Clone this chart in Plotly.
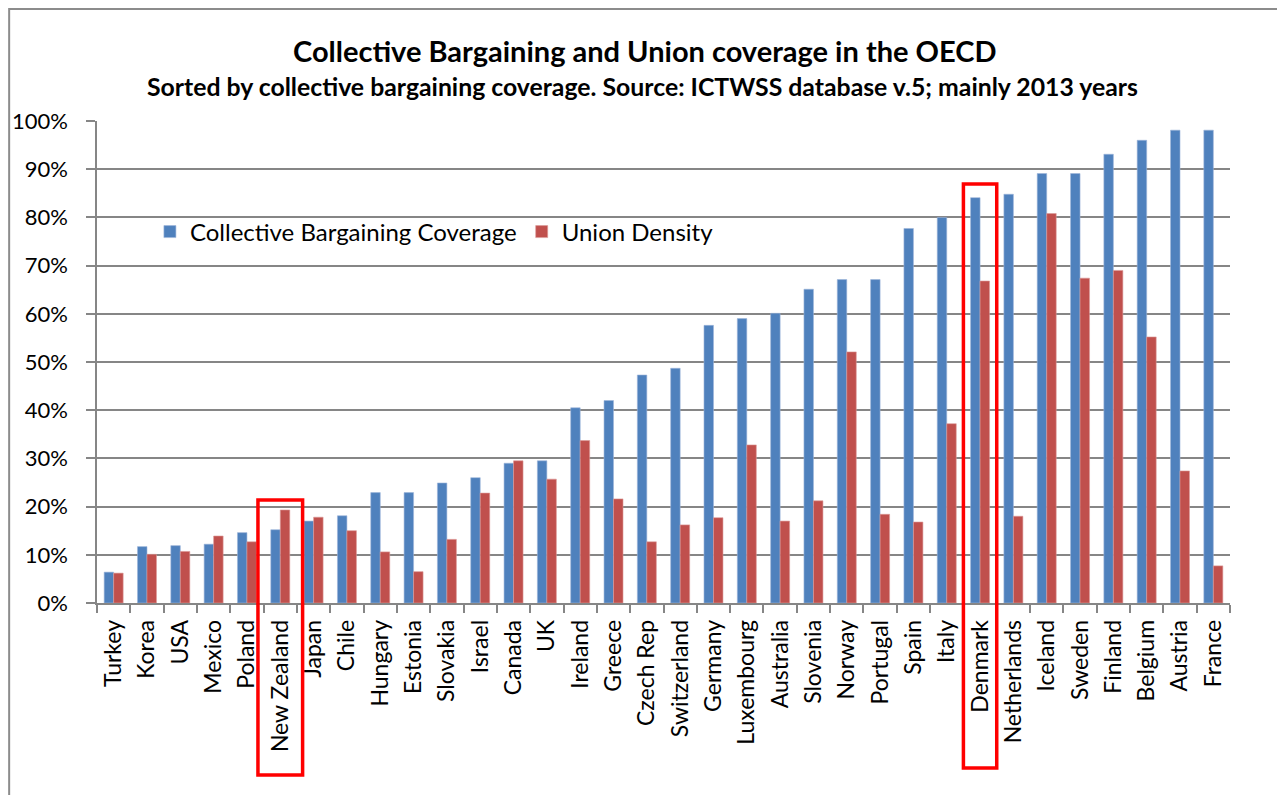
import plotly.graph_objects as go

countries = ["Turkey", "Korea", "USA", "Mexico", "Poland", "New Zealand", "Japan", "Chile",
             "Hungary", "Estonia", "Slovakia", "Israel", "Canada", "UK", "Ireland", "Greece",
             "Czech Rep", "Switzerland", "Germany", "Luxembourg", "Australia", "Slovenia",
             "Norway", "Portugal", "Spain", "Italy", "Denmark", "Netherlands", "Iceland",
             "Sweden", "Finland", "Belgium", "Austria", "France"]

bargaining_coverage = [6.4, 11.7, 11.9, 12.2, 14.6, 15.2, 17.0, 18.1, 22.9, 22.9, 24.9, 26.0,
                       29.0, 29.5, 40.5, 42.0, 47.3, 48.7, 57.6, 59.0, 60.1, 65.1, 67.1, 67.1,
                       77.7, 80.0, 84.1, 84.8, 89.1, 89.1, 93.1, 96.0, 98.1, 98.1]

union_density = [6.2, 10.1, 10.7, 13.9, 12.7, 19.3, 17.8, 15.0, 10.6, 6.5, 13.2, 22.8,
                 29.5, 25.7, 33.7, 21.6, 12.7, 16.2, 17.7, 32.8, 17.0, 21.2, 52.1, 18.4,
                 16.8, 37.2, 66.8, 18.0, 80.8, 67.4, 69.0, 55.2, 27.4, 7.7]

highlighted = ["New Zealand", "Denmark"]

title = "Collective Bargaining and Union coverage in the OECD"
subtitle = "Sorted by collective bargaining coverage. Source: ICTWSS database v.5; mainly 2013 years"

BLUE = "#4F81BD"
RED = "#C0504D"
GRID = "#868686"
FONT = "Lato"

W, H = 1277, 795
L, R, T, B = 95, 47, 121, 192
PW, PH = W - L - R, H - T - B


def px_x(px):
    return (px - L) / PW


def px_y(py):
    return (H - B - py) / PH


fig = go.Figure()
fig.add_trace(go.Bar(x=countries, y=[v / 100 for v in bargaining_coverage],
                     name="Collective Bargaining Coverage",
                     marker=dict(color=BLUE, line=dict(width=0.6, color="#9DB5DA"))))
fig.add_trace(go.Bar(x=countries, y=[v / 100 for v in union_density],
                     name="Union Density",
                     marker=dict(color=RED, line=dict(width=0.6, color="#DC9A98"))))

n = len(countries)
shapes = []
# outer chart frame
shapes.append(dict(type="rect", xref="paper", yref="paper",
                   x0=px_x(7), x1=px_x(W + 20), y0=px_y(H + 20), y1=px_y(9),
                   line=dict(color="#8C8C8C", width=2), fillcolor="rgba(0,0,0,0)", layer="above"))
# legend background block hiding gridlines
shapes.append(dict(type="rect", xref="paper", yref="paper",
                   x0=px_x(143), x1=px_x(727), y0=px_y(262), y1=px_y(190),
                   line=dict(width=0), fillcolor="white", layer="between"))
# highlight boxes
box_spec = {"New Zealand": (0.67, px_y(500), px_y(775)),
            "Denmark": (0.5, px_y(184), px_y(768))}
for c in highlighted:
    i = countries.index(c)
    half, ytop, ybot = box_spec[c]
    shapes.append(dict(type="rect", xref="x domain", yref="paper",
                       x0=(i + 0.5 - half) / n, x1=(i + 0.5 + half) / n,
                       y0=ybot, y1=ytop,
                       line=dict(color="#FF0000", width=3.5), fillcolor="rgba(0,0,0,0)",
                       layer="above"))

fig.update_layout(
    width=W, height=H,
    margin=dict(l=L, r=R, t=T, b=B),
    paper_bgcolor="white", plot_bgcolor="white",
    barmode="group", bargap=0.43, bargroupgap=0,
    font=dict(family=FONT, color="black"),
    showlegend=True,
    legend=dict(orientation="h", x=px_x(148), y=px_y(232), xanchor="left", yanchor="middle",
                bgcolor="rgba(0,0,0,0)", font=dict(size=24, family=FONT),
                itemwidth=30, traceorder="normal"),
    shapes=shapes,
    annotations=[
        dict(text="<b>" + title + "</b>", xref="paper", yref="paper", x=px_x(643), y=px_y(50),
             xanchor="center", yanchor="middle", showarrow=False,
             font=dict(size=29, family=FONT, color="black")),
        dict(text="<b>" + subtitle + "</b>", xref="paper", yref="paper", x=px_x(641), y=px_y(86),
             xanchor="center", yanchor="middle", showarrow=False,
             font=dict(size=24.8, family=FONT, color="black")),
    ],
)

fig.update_xaxes(type="category", range=[-0.5, n - 0.5], tickson="boundaries",
                 ticks="outside", ticklen=8, tickcolor=GRID, tickwidth=1.5,
                 showline=True, linecolor=GRID, linewidth=1.5, showgrid=False,
                 tickangle=-90, ticklabelstandoff=6,
                 tickfont=dict(size=23, family=FONT, color="black"))
fig.update_yaxes(range=[0, 1], dtick=0.1, tickformat=".0%",
                 ticks="outside", ticklen=9, tickcolor=GRID, tickwidth=1.5,
                 showline=True, linecolor=GRID, linewidth=1.5,
                 showgrid=True, gridcolor=GRID, gridwidth=1.5, zeroline=False,
                 ticklabelstandoff=14, tickfont=dict(size=22, family=FONT, color="black"))

fig.write_html("out.html")
